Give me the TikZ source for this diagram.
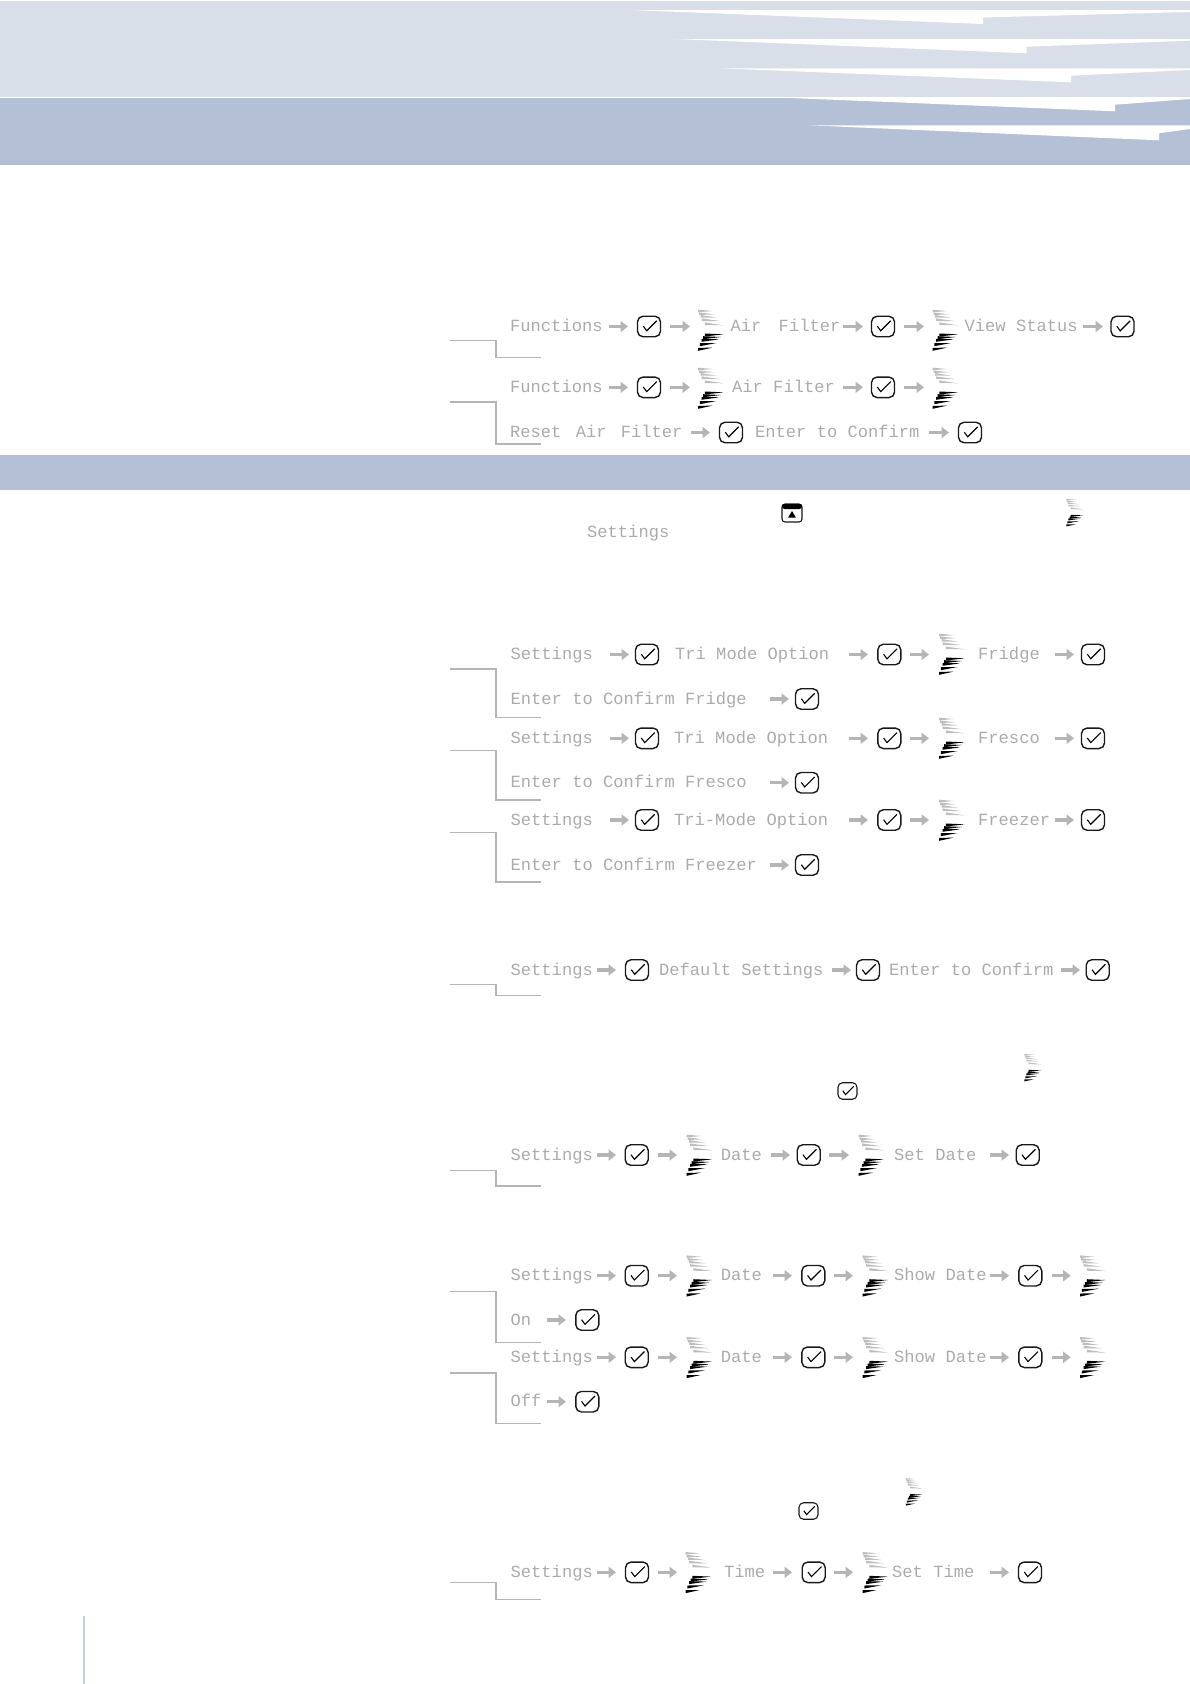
\documentclass[tikz,border=0pt]{standalone}
\usepackage{fontspec}
\setmonofont{Liberation Mono}
\usetikzlibrary{arrows.meta}
\definecolor{bandlight}{HTML}{D9DFE9}
\definecolor{banddark}{HTML}{B3C0D6}
\definecolor{rulegray}{HTML}{B5B5B5}
\definecolor{lcdgray}{HTML}{ABABAB}
\definecolor{chevlight}{HTML}{BEBEBE}
\definecolor{sideline}{HTML}{C5CCE0}
\newcounter{flowno}
\tikzset{
  lcdtext/.style={anchor=base west,inner sep=0pt,text=lcdgray,font=\ttfamily\fontsize{17.1}{17}\selectfont},
  flowarrow/.style={draw=rulegray,line width=3.4pt,-{Triangle[length=7.5pt,width=11pt]}},
  bracketline/.style={draw=rulegray,line width=1.5pt},
  chkbox/.style={draw=black!90,rounded corners=5.5pt,line width=1.4pt,minimum width=23pt,minimum height=20.5pt,inner sep=0pt},
  smallchk/.style={chkbox,rounded corners=4.5pt,line width=1.1pt,minimum width=19pt,minimum height=16.5pt},
  tick/.style={draw=black,line width=1.1pt}
}
\newcommand\lcd[4]{\node[lcdtext] (#1) at (#2,#3+5) {#4};}
\newcommand\flow[3]{\stepcounter{flowno}\coordinate (fa\theflowno) at (#1,#3);\coordinate (fb\theflowno) at (#2,#3);\draw[flowarrow] (fa\theflowno) -- (fb\theflowno);}
\newcommand\chk[3]{\node[chkbox] (#1) at (#2,#3) {};\draw[tick] ([shift={(-5.7,-.3)}]#1.center) -- ([shift={(-2.3,4.3)}]#1.center) -- ([shift={(7.7,-5.7)}]#1.center);}
\newcommand\chks[3]{\node[smallchk] (#1) at (#2,#3) {};\draw[tick] ([shift={(-4.7,-.3)}]#1.center) -- ([shift={(-1.9,3.6)}]#1.center) -- ([shift={(6.3,-4.7)}]#1.center);}
\newcommand\chev[3]{\begin{scope}[shift={(#1,#2)},scale=#3]
\foreach \a/\b/\c/\d in {-12.3/-19/2/-19,-11.3/-16.3/3.7/-15.7,-10/-13.7/6.7/-12.3,-9/-10.3/9.3/-9,-5.7/-6.3/13/-4.7}
  \fill[chevlight] (\a,\b-1.3) -- (\a,\b+1.3) -- (\c,\d) -- cycle;
\foreach \a/\b/\c/\d in {-5.7/5/13/4.3,-7.3/7.7/10.3/7,-9/10.3/8.7/9.3,-10.7/14.7/6/13,-12.3/19.3/1.7/17.7}
  \fill[black] (\a,\b-1.5) -- (\a,\b+1.5) -- (\c,\d) -- cycle;
\end{scope}}
\newcommand\brk[3]{\stepcounter{flowno}\coordinate (ba\theflowno) at (450,#1);\coordinate (bb\theflowno) at (496,#1);\coordinate (bc\theflowno) at (496,#2);\coordinate (bd\theflowno) at (541,#2);\draw[bracketline] (ba\theflowno) -- (bb\theflowno) -- (bc\theflowno) -- (bd\theflowno);}
\begin{document}
\begin{tikzpicture}[x=1pt,y=-1pt]
\useasboundingbox (0,0) rectangle (1190,1684);
% header
\fill[bandlight] (0,1) rectangle (1190,96.5);
\fill[banddark] (0,98) rectangle (1190,165);
\fill[white] (630,10) -- (1190,10) -- (1190,12) -- (983,17.5) -- (983,24) -- cycle;
\fill[white] (675,39) -- (1190,39) -- (1190,40.7) -- (1026.5,46.7) -- (1026.5,53.3) -- cycle;
\fill[white] (719,68.3) -- (1190,68.3) -- (1190,70) -- (1071,75.7) -- (1071,82.3) -- cycle;
\fill[white] (766,97) -- (1190,97) -- (1190,99) -- (1115,104.7) -- (1115,111.3) -- cycle;
\fill[white] (808,125.3) -- (1190,125.3) -- (1190,129) -- (1159,133.3) -- (1159,140.3) -- cycle;
\fill[banddark] (0,455) rectangle (1190,490);
\fill[sideline] (82.8,1616) rectangle (85.3,1684);
% row A
\brk{340.7}{357.7}{}
\lcd{a1}{510}{326.5}{Functions}\flow{609}{628}{326.5}\chk{a2}{649}{326.5}\flow{670}{690}{326.5}\chev{710.5}{330}{1}
\lcd{a3}{730.5}{326.5}{Air\hspace{7pt} Filter}\flow{843}{863}{326.5}\chk{a4}{883}{326.5}\flow{904}{924}{326.5}\chev{945}{330}{1}
\lcd{a5}{964.5}{326.5}{View Status}\flow{1082.5}{1103}{326.5}\chk{a6}{1122.5}{326.5}
% row B
\brk{402}{444}{}
\lcd{b1}{510}{387.3}{Functions}\flow{609}{628}{387.3}\chk{b2}{649}{387.3}\flow{670}{690}{387.3}\chev{710.5}{388}{1}
\lcd{b3}{732}{387.3}{Air Filter}\flow{843}{863}{387.3}\chk{b4}{883}{387.3}\flow{904}{924}{387.3}\chev{945}{388}{1}
\lcd{b5}{510}{432.5}{Reset\hspace{4pt} Air\hspace{4pt} Filter}\flow{691}{710}{432.5}\chk{b6}{731}{432.5}
\lcd{b7}{755}{432.5}{Enter to Confirm}\flow{929}{949}{432.5}\chk{b8}{970}{432.5}
% icon line
\node[draw=black!90,rounded corners=3pt,line width=1.1pt,minimum width=20pt,minimum height=18pt,inner sep=0pt] (icon) at (792,513) {};
\fill[black,rounded corners=2.5pt] (782,504) rectangle (802,509);
\fill[black] (788,517.7) -- (796,517.7) -- (792,511) -- cycle;
\chev{1074.5}{512.5}{.67}
\lcd{s0}{587}{532}{Settings}
% fridge
\brk{669}{717.7}{}
\lcd{c1}{510.5}{654.5}{Settings}\flow{610}{629}{654.5}\chk{c2}{647}{654.5}
\lcd{c3}{675}{654.5}{Tri Mode Option}\flow{849}{868}{654.5}\chk{c4}{889.3}{654.5}\flow{910}{929}{654.5}\chev{951.5}{654}{1}
\lcd{c5}{978}{654.5}{Fridge}\flow{1055}{1074}{654.5}\chk{c6}{1093}{654.5}
\lcd{c7}{510.5}{699}{Enter to Confirm Fridge}\flow{770}{789}{699}\chk{c8}{807}{699}
% fresco
\brk{750.7}{800}{}
\lcd{d1}{510.5}{738.3}{Settings}\flow{610}{629}{738.3}\chk{d2}{647}{738.3}
\lcd{d3}{674}{738.3}{Tri Mode Option}\flow{849}{868}{738.3}\chk{d4}{889.3}{738.3}\flow{910}{929}{738.3}\chev{951.5}{738}{1}
\lcd{d5}{978}{738.3}{Fresco}\flow{1055}{1074}{738.3}\chk{d6}{1093}{738.3}
\lcd{d7}{510.5}{782.7}{Enter to Confirm Fresco}\flow{770}{789}{782.7}\chk{d8}{807}{782.7}
% freezer
\brk{832.7}{882}{}
\lcd{e1}{510.5}{820}{Settings}\flow{610}{629}{820}\chk{e2}{647}{820}
\lcd{e3}{674}{820}{Tri-Mode Option}\flow{849}{868}{820}\chk{e4}{889.3}{820}\flow{910}{929}{820}\chev{951.5}{820}{1}
\lcd{e5}{978}{820}{Freezer}\flow{1055}{1074}{820}\chk{e6}{1093}{820}
\lcd{e7}{510.5}{865}{Enter to Confirm Freezer}\flow{770}{789}{865}\chk{e8}{807}{865}
% default settings
\brk{984.3}{995.3}{}
\lcd{f1}{510.5}{970}{Settings}\flow{597}{616}{970}\chk{f2}{637}{970}
\lcd{f3}{659}{970}{Default Settings}\flow{832}{851}{970}\chk{f4}{868}{970}
\lcd{f5}{889}{970}{Enter to Confirm}\flow{1061}{1080}{970}\chk{f6}{1097.7}{970}
% hints
\chev{1032.5}{1067.5}{.67}
\chks{g0}{847.5}{1091}
% set date
\brk{1170.3}{1186}{}
\lcd{g1}{510.5}{1155}{Settings}\flow{597}{616}{1155}\chk{g2}{636.7}{1155}\flow{658}{677}{1155}\chev{699}{1155}{1}
\lcd{g3}{720.7}{1155}{Date}\flow{771}{790}{1155}\chk{g4}{808.7}{1155}\flow{829}{849}{1155}\chev{871}{1155}{1}
\lcd{g5}{894}{1155}{Set Date}\flow{990}{1009}{1155}\chk{g6}{1027.7}{1155}
% show date on
\brk{1291.3}{1342.3}{}
\lcd{h1}{510.5}{1275.7}{Settings}\flow{597}{616}{1275.7}\chk{h2}{636.7}{1275.7}\flow{658}{677}{1275.7}\chev{699}{1275.7}{1}
\lcd{h3}{720.7}{1275.7}{Date}\flow{773}{792}{1275.7}\chk{h4}{813.3}{1275.7}\flow{834}{853}{1275.7}\chev{875}{1275.7}{1}
\lcd{h5}{894}{1275.7}{Show Date}\flow{990}{1009}{1275.7}\chk{h6}{1030.3}{1275.7}\flow{1051.7}{1070.7}{1275.7}\chev{1092.5}{1275.7}{1}
\lcd{h7}{510.5}{1320}{On}\flow{547}{566}{1320}\chk{h8}{587.3}{1320}
% show date off
\brk{1373}{1423.7}{}
\lcd{i1}{510.5}{1357.3}{Settings}\flow{597}{616}{1357.3}\chk{i2}{636.7}{1357.3}\flow{658}{677}{1357.3}\chev{699}{1357.3}{1}
\lcd{i3}{720.7}{1357.3}{Date}\flow{773}{792}{1357.3}\chk{i4}{813.3}{1357.3}\flow{834}{853}{1357.3}\chev{875}{1357.3}{1}
\lcd{i5}{894}{1357.3}{Show Date}\flow{990}{1009}{1357.3}\chk{i6}{1030.3}{1357.3}\flow{1051.7}{1070.7}{1357.3}\chev{1092.5}{1357.3}{1}
\lcd{i7}{510.5}{1401.7}{Off}\flow{547}{566}{1401.7}\chk{i8}{587.3}{1401.7}
% time
\chev{914}{1491.7}{.67}
\chks{j0}{808.5}{1511}
\brk{1582.3}{1599.7}{}
\lcd{j1}{510.5}{1572.3}{Settings}\flow{597}{616}{1572.3}\chk{j2}{637}{1572.3}\flow{658}{677}{1572.3}\chev{698}{1572.3}{1}
\lcd{j3}{724}{1572.3}{Time}\flow{773}{792}{1572.3}\chk{j4}{813.7}{1572.3}\flow{834}{853}{1572.3}\chev{875}{1572.3}{1}
\lcd{j5}{892}{1572.3}{Set Time}\flow{990}{1009}{1572.3}\chk{j6}{1030}{1572.3}
\end{tikzpicture}
\end{document}
